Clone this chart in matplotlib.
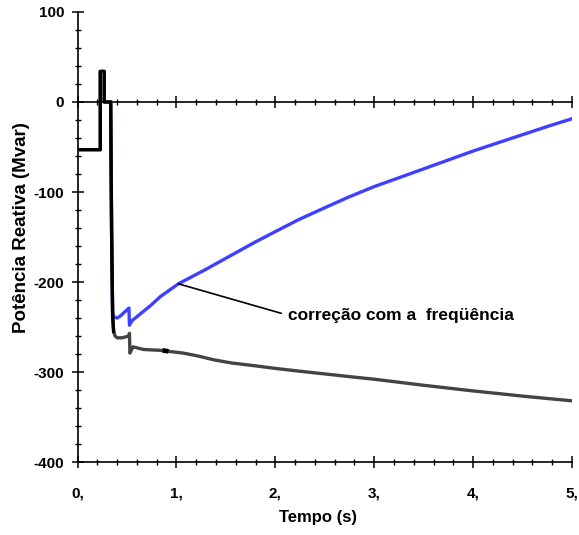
import matplotlib
matplotlib.use("Agg")
import matplotlib.pyplot as plt
from matplotlib.ticker import MultipleLocator, FixedLocator

plt.rcParams['font.family'] = ['Liberation Sans', 'DejaVu Sans']
plt.rcParams['font.weight'] = 'bold'
plt.rcParams['axes.unicode_minus'] = False

# curva sem correcao (preta / cinza)
t_base = [0.0, 0.23, 0.23, 0.27, 0.27, 0.335, 0.345, 0.355, 0.365, 0.38, 0.40, 0.45,
          0.52, 0.525, 0.53, 0.56, 0.67, 0.86, 0.92, 1.07, 1.21, 1.38, 1.56, 1.79,
          2.0, 2.24, 2.49, 2.74, 3.0, 3.26, 3.52, 3.76, 4.0, 4.26, 4.52, 4.76, 5.0]
q_base = [-53, -53, 34, 34, 0, 0, -150, -238, -255, -260, -262, -262,
          -260, -257, -279, -272, -275, -276, -277, -279, -282, -286.5, -290, -293,
          -296, -299, -302, -305, -308, -311.5, -315, -318, -321, -324, -327, -329.5, -332]

# curva com correcao da frequencia (azul)
t_corr = [0.335, 0.345, 0.355, 0.37, 0.40, 0.43, 0.52, 0.525, 0.55, 0.64, 0.74, 0.84,
          0.93, 1.02, 1.28, 1.56, 1.79, 2.0, 2.24, 2.49, 2.74, 3.0, 3.26, 3.52,
          3.76, 4.0, 4.26, 4.52, 4.76, 5.0]
q_corr = [0, -150, -234, -239, -240, -238, -229, -248, -243, -235, -226, -216,
          -209, -202, -187, -170, -156, -144, -130.5, -118, -105.7, -94, -83.8, -73.5,
          -64, -54.5, -45, -35.6, -26.9, -18.6]

x_ticks = [0, 1, 2, 3, 4, 5]
x_labels = ['0,', '1,', '2,', '3,', '4,', '5,']
y_ticks = [-400, -300, -200, -100, 0, 100]

fig = plt.figure(figsize=(5.79, 5.35), dpi=100)
ax = fig.add_axes([0.1339, 0.1364, 0.854, 0.8412])

ax.plot(t_corr, q_corr, color='#3f3fff', lw=2.4, zorder=3)
ax.plot(t_base, q_base, color='#444444', lw=2.4, zorder=4)
n_early = 9
ax.plot(t_base[:n_early], q_base[:n_early], color='black', lw=2.4, zorder=5)
# trecho curto mais grosso em preto
ax.plot(t_base[17:19], q_base[17:19], color='black', lw=3.4, zorder=5,
        solid_capstyle='butt')

ax.annotate('correção com a  freqüência', xy=(1.02, -202), xytext=(2.13, -237),
            fontsize=12.5, fontweight='bold', ha='left', va='center',
            arrowprops=dict(arrowstyle='-', color='black', lw=1.2,
                            shrinkA=3, shrinkB=0, relpos=(0, 0.5)))

ax.set_xlim(0, 5)
ax.set_ylim(-400, 100)

ax.spines['right'].set_visible(False)
ax.spines['top'].set_position(('data', 0))
ax.spines['top'].set_linewidth(1.2)
ax.spines['left'].set_linewidth(1.2)
ax.spines['bottom'].set_linewidth(1.2)

ax.xaxis.set_major_locator(FixedLocator(x_ticks))
ax.set_xticklabels(x_labels)
ax.xaxis.set_minor_locator(MultipleLocator(0.2))
ax.yaxis.set_major_locator(FixedLocator(y_ticks))
ax.yaxis.set_minor_locator(MultipleLocator(20))

ax.tick_params(axis='x', which='both', top=True, labeltop=False, direction='inout')
ax.tick_params(axis='y', which='both', direction='inout')
ax.tick_params(which='major', length=9, width=1.1, labelsize=11)
ax.tick_params(which='minor', length=5, width=1.0)
ax.tick_params(axis='x', which='major', pad=13)
ax.tick_params(axis='y', which='major', pad=5)

ax.set_xlabel('Tempo (s)', fontsize=12, fontweight='bold')
ax.set_ylabel('Potência Reativa (Mvar)', fontsize=13.5, fontweight='bold')
ax.xaxis.set_label_coords(0.487, -0.124)
ax.yaxis.set_label_coords(-0.113, 0.52)
ax.xaxis.label.set_va('center')
ax.yaxis.label.set_va('center')

plt.savefig('out.png', dpi=100)
